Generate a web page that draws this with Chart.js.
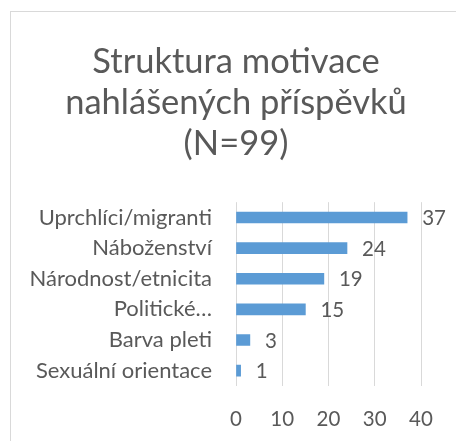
<!DOCTYPE html>
<html>
<head>
<meta charset="utf-8">
<script src="https://cdn.jsdelivr.net/npm/chart.js@4/dist/chart.umd.min.js"></script>
<style>
html,body{margin:0;padding:0;background:#fff;overflow:hidden;}
#box{position:absolute;left:10px;top:11px;width:460px;height:430px;border-left:1px solid #d9d9d9;border-top:1px solid #d9d9d9;}
</style>
</head>
<body>
<div id="box"><canvas id="c"></canvas></div>
<script>
const titleLines = ["Struktura motivace", "nahlášených příspěvků", "(N=99)"];
const categories = ["Uprchlíci/migranti", "Náboženství", "Národnost/etnicita", "Politické…", "Barva pleti", "Sexuální orientace"];
const values = [37, 24, 19, 15, 3, 1];
const xTicks = [0, 10, 20, 30, 40];

const FONT = "Lato";
const TXT = "#595959";

const valueLabels = {
  id: "valueLabels",
  afterDatasetsDraw(chart) {
    const ctx = chart.ctx;
    const meta = chart.getDatasetMeta(0);
    ctx.save();
    ctx.font = "20.5px " + FONT;
    ctx.fillStyle = TXT;
    ctx.textAlign = "left";
    ctx.textBaseline = "middle";
    meta.data.forEach((el, i) => {
      ctx.fillText(String(values[i]), el.x + 15, el.y + 1);
    });
    ctx.restore();
  }
};

// centre the title over the whole chart box (the border frame), not only the padded area
const centreTitle = {
  id: "centreTitle",
  afterLayout(chart) {
    const t = chart.titleBlock;
    if (t) { t.left = 0; t.right = 450; t.width = 450; }
  }
};

new Chart(document.getElementById("c"), {
  type: "bar",
  data: {
    labels: categories,
    datasets: [{
      data: values,
      backgroundColor: "#5B9BD5",
      borderWidth: 0,
      barThickness: 11
    }]
  },
  options: {
    indexAxis: "y",
    responsive: true,
    maintainAspectRatio: false,
    animation: false,
    layout: { padding: { left: 0, right: 50, top: 0, bottom: 0 } },
    plugins: {
      legend: { display: false },
      tooltip: { enabled: false },
      title: {
        display: true,
        text: titleLines,
        color: TXT,
        font: { family: FONT, size: 34.5, weight: "normal", lineHeight: 1.19 },
        padding: { top: 29, bottom: 38 }
      }
    },
    scales: {
      x: {
        min: 0, max: 40,
        afterBuildTicks(scale) { scale.ticks = xTicks.map(v => ({ value: v })); },
        afterFit(scale) { scale.height = 56; },
        grid: { color: "#d9d9d9", drawTicks: false, lineWidth: 1 },
        border: { display: false },
        ticks: { color: TXT, padding: 21, font: { family: FONT, size: 20.5 } }
      },
      y: {
        afterFit(scale) { scale.width = 225; },
        grid: { display: false, drawTicks: false },
        border: { display: false },
        ticks: { color: TXT, padding: 24, font: { family: FONT, size: 22 } }
      }
    }
  },
  plugins: [valueLabels, centreTitle]
});
</script>
</body>
</html>
